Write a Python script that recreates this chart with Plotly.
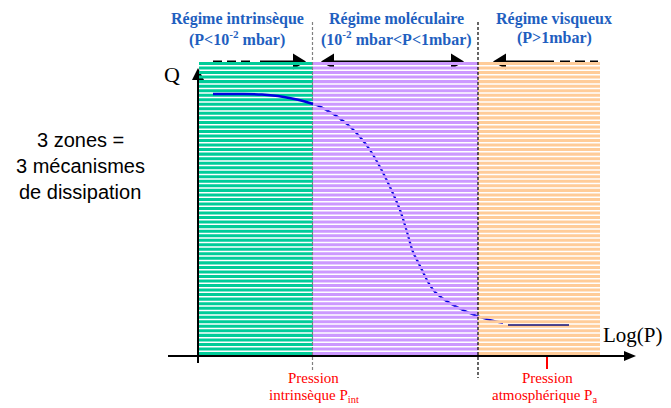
import plotly.graph_objects as go

# ---------------- data (schematic units: x = log P axis, y = Q axis) ----------------
regime_names = ["Régime intrinsèque", "Régime moléculaire", "Régime visqueux"]
regime_ranges = ["(P<10<sup>-2</sup> mbar)", "(10<sup>-2</sup> mbar<P<1mbar)", "(P>1mbar)"]
regime_edges = [1, 115, 280, 402]          # boundaries of the three zones along log(P)
regime_top = 294                            # top of shaded zones
regime_bottom = 1
regime_colors = ["#00CC99", "#CC99FF", "#FFCC99"]
n_stripes = 65

# Q(P) curve, intrinsic part (visible) and remaining part
curve_intr_x = [15, 42, 64, 80, 94, 105, 115]
curve_intr_y = [262, 262, 261.5, 260, 257.5, 255, 252]
curve_rest_x = [115, 122, 129, 137, 143, 149, 154, 162, 172, 182, 192, 202, 209, 215, 220,
                225, 230, 237, 247, 257, 267, 279, 292, 305]
curve_rest_y = [252, 249.5, 245.5, 241, 236.5, 232, 227.5, 219, 206, 189, 169, 146, 124, 104, 94,
                84, 74, 64, 56, 50, 45, 40, 36, 33]
plateau_x = [310, 371]
plateau_y = [31, 31]

p_int = 115        # intrinsic pressure position
p_atm = 349        # atmospheric pressure position
p_visc = 280       # viscous boundary

# ---------------- figure ----------------
fig = go.Figure()
SERIF = "Times New Roman, Liberation Serif, serif"
SANS = "Arial, Liberation Sans, sans-serif"
BLK = "#000000"
arrow_y = 294.5


def add_line(xs, ys, color=BLK, width=2, dash="solid"):
    fig.add_trace(go.Scatter(x=xs, y=ys, mode="lines", line=dict(color=color, width=width, dash=dash),
                             hoverinfo="skip", showlegend=False))


def add_tri(xs, ys, color=BLK):
    fig.add_trace(go.Scatter(x=xs + [xs[0]], y=ys + [ys[0]], mode="lines", fill="toself",
                             fillcolor=color, line=dict(width=0, color=color),
                             hoverinfo="skip", showlegend=False))


# --- top arrows (drawn behind shaded zones) ---
L, H = 13, 8
# intrinsic: dashed then solid arrow to the right
add_line([15, 57], [arrow_y, arrow_y], dash="9px,5px")
add_line([62, regime_edges[1] - 7 - L], [arrow_y, arrow_y])
add_tri([regime_edges[1] - 7 - L, regime_edges[1] - 7, regime_edges[1] - 7 - L],
        [arrow_y + H, arrow_y, arrow_y - H])
# molecular: double arrow
add_line([regime_edges[1] + 8 + L, regime_edges[2] - 14 - L], [arrow_y, arrow_y])
add_tri([regime_edges[1] + 8 + L, regime_edges[1] + 8, regime_edges[1] + 8 + L],
        [arrow_y + H, arrow_y, arrow_y - H])
add_tri([regime_edges[2] - 14 - L, regime_edges[2] - 14, regime_edges[2] - 14 - L],
        [arrow_y + H, arrow_y, arrow_y - H])
# viscous: arrow to the left then dashed
add_line([regime_edges[2] + 15 + L, 356], [arrow_y, arrow_y])
add_line([362, 400], [arrow_y, arrow_y], dash="10px,5px")
add_tri([regime_edges[2] + 15 + L, regime_edges[2] + 15, regime_edges[2] + 15 + L],
        [arrow_y + H, arrow_y, arrow_y - H])

# --- Q axis (behind zones) ---
add_line([0, 0], [-7, 276], width=2)
add_tri([-6, 0, 6], [276, 288, 276])

# --- remaining part of the curve (hidden behind the striped zones) ---
fig.add_trace(go.Scatter(x=curve_rest_x, y=curve_rest_y, mode="lines",
                         line=dict(color="#0000E0", width=2.2, shape="spline"),
                         hoverinfo="skip", showlegend=False))

# --- striped shaded zones ---
period = (regime_top - regime_bottom + 1.5) / n_stripes
band_h = period - 1.5
for i in range(3):
    x0, x1 = regime_edges[i], regime_edges[i + 1]
    xs, ys = [], []
    for k in range(n_stripes):
        t = regime_top - k * period
        b = t - band_h
        xs += [x0, x1, x1, x0, x0, None]
        ys += [t, t, b, b, t, None]
    fig.add_trace(go.Scatter(x=xs, y=ys, mode="lines", fill="toself", fillcolor=regime_colors[i],
                             line=dict(width=0, color=regime_colors[i]),
                             hoverinfo="skip", showlegend=False))

# --- dashed boundaries ---
add_line([p_int - 0.5, p_int - 0.5], [334, -16], color="#808080", width=1.2, dash="3px,2px")
add_line([p_visc, p_visc], [334, -22], color=BLK, width=1.2, dash="3px,2px")

# --- visible curve parts ---
fig.add_trace(go.Scatter(x=curve_intr_x, y=curve_intr_y, mode="lines",
                         line=dict(color="#0000E0", width=2.4, shape="spline"),
                         hoverinfo="skip", showlegend=False))
add_line(plateau_x, plateau_y, color="#10107a", width=1.5)

# --- log(P) axis and atmospheric tick ---
add_line([-30, 426], [0, 0], width=2)
add_tri([426, 438, 426], [5, 0, -5])
add_line([p_atm, p_atm], [-1, -13], color="#FF0000", width=2)

# ---------------- text ----------------
ann = []
centers = [39, 198, 356]
for c, n, r in zip(centers, regime_names, regime_ranges):
    ann.append(dict(x=c, y=337, text="<b>" + n + "</b>", font=dict(family=SERIF, size=16, color="#1F5FC0")))
    ann.append(dict(x=c, y=318, text="<b>" + r + "</b>", font=dict(family=SERIF, size=16, color="#1F5FC0")))

for yy, t in zip([216, 190, 164], ["3 zones =", "3 mécanismes", "de dissipation"]):
    ann.append(dict(x=-118, y=yy, text=t, font=dict(family=SANS, size=20, color="#000000")))

ann.append(dict(x=-26, y=282, text="Q", font=dict(family=SERIF, size=22, color="#000000")))
ann.append(dict(x=435, y=21, text="Log(P)", font=dict(family=SERIF, size=21, color="#000000")))

RED = "#FF0000"
ann.append(dict(x=p_int, y=-22, text="Pression", font=dict(family=SERIF, size=15, color=RED)))
ann.append(dict(x=p_int + 1, y=-40, text="intrinsèque P<sub>int</sub>", font=dict(family=SERIF, size=15, color=RED)))
ann.append(dict(x=p_atm, y=-22, text="Pression", font=dict(family=SERIF, size=15, color=RED)))
ann.append(dict(x=p_atm - 3, y=-40, text="atmosphérique P<sub>a</sub>", font=dict(family=SERIF, size=15, color=RED)))

for a in ann:
    a.update(xref="x", yref="y", showarrow=False, xanchor="center", yanchor="middle")

fig.update_layout(
    width=671, height=408,
    margin=dict(l=0, r=0, t=0, b=0),
    paper_bgcolor="white", plot_bgcolor="white",
    annotations=ann,
    xaxis=dict(range=[-198, 473], visible=False, fixedrange=True),
    yaxis=dict(range=[-52, 356], visible=False, fixedrange=True),
    showlegend=False,
)

fig.write_html("out.html",
               post_script="document.body.style.margin='0px';document.body.style.overflow='hidden';",
               config={"displayModeBar": False})
